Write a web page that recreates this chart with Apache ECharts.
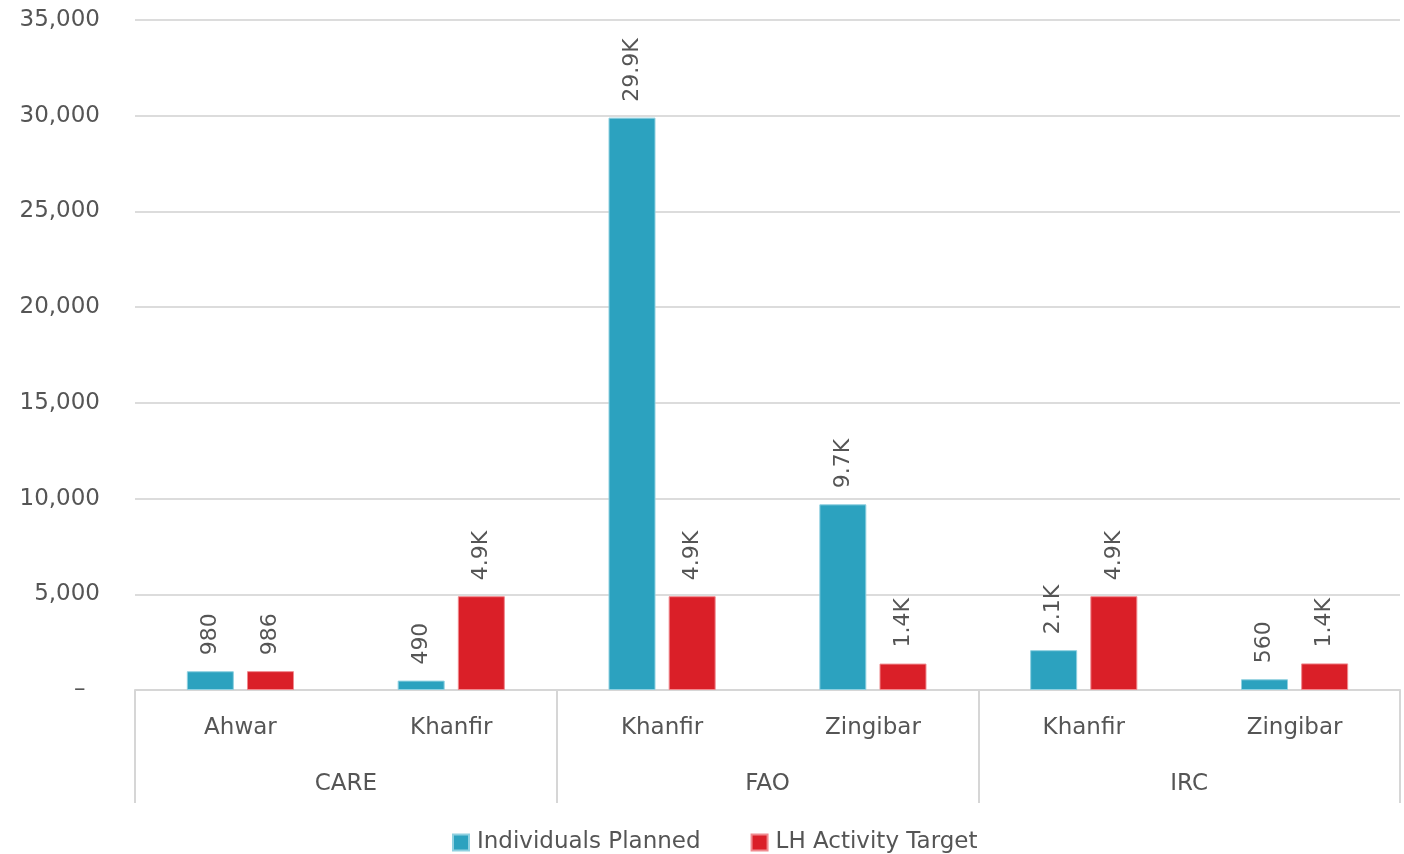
<!DOCTYPE html>
<html>
<head>
<meta charset="utf-8">
<script src="https://cdn.jsdelivr.net/npm/echarts@6/dist/echarts.min.js"></script>
<style>html,body{margin:0;padding:0;background:#fff}#c{width:1404px;height:854px}</style>
</head>
<body>
<div id="c"></div>
<script>
const subCategories = ['Ahwar', 'Khanfir', 'Khanfir', 'Zingibar', 'Khanfir', 'Zingibar'];
const groupCategories = ['CARE', 'FAO', 'IRC'];
const seriesNames = ['Individuals Planned', 'LH Activity Target'];
const individualsPlanned = [980, 490, 29900, 9700, 2080, 560];
const lhActivityTarget = [986, 4900, 4900, 1380, 4900, 1390];
const yTicks = { min: 0, max: 35000, interval: 5000 };

const FONT = 'DejaVu Sans';
const TXT = '#555';
const fmtLabel = p => p.value < 1000 ? String(p.value) : (p.value / 1000).toFixed(1) + 'K';

const chart = echarts.init(document.getElementById('c'));
const labelCfg = {
  show: true, position: 'top', rotate: 90, align: 'left', verticalAlign: 'middle',
  distance: 16, color: TXT, fontFamily: FONT, fontSize: 22, formatter: fmtLabel
};
chart.setOption({
  animation: false,
  textStyle: { fontFamily: FONT },
  color: ['#2ca2bf', '#da1f28'],
  grid: { left: 135, right: 4, top: 20, bottom: 164, containLabel: false },
  legend: {
    data: seriesNames, top: 826, left: 447, icon: 'rect',
    itemWidth: 16, itemHeight: 16, itemGap: 50,
    textStyle: { color: TXT, fontFamily: FONT, fontSize: 23, padding: [0, 0, 0, 3] }
  },
  xAxis: [
    {
      type: 'category', data: subCategories, position: 'bottom',
      axisLine: { show: true, lineStyle: { color: '#d6d6d6', width: 2 } },
      axisTick: { show: false },
      axisLabel: { color: TXT, fontFamily: FONT, fontSize: 23, margin: 27 }
    },
    {
      type: 'category', data: groupCategories, position: 'bottom',
      axisLine: { show: false },
      axisTick: { show: true, length: 113, lineStyle: { color: '#d6d6d6', width: 2 } },
      axisLabel: { color: TXT, fontFamily: FONT, fontSize: 23, margin: 83 }
    }
  ],
  yAxis: {
    type: 'value', min: yTicks.min, max: yTicks.max, interval: yTicks.interval,
    axisLine: { show: false }, axisTick: { show: false },
    splitLine: { lineStyle: { color: '#dcdcdc', width: 2 } },
    axisLabel: {
      color: TXT, fontFamily: FONT, fontSize: 23, margin: 35,
      formatter: v => v === 0 ? '\u2013\u00a0\u00a0' : v.toLocaleString('en-US')
    }
  },
  series: [
    { name: seriesNames[0], type: 'bar', xAxisIndex: 0, data: individualsPlanned,
      barWidth: 47, barGap: '28%', label: labelCfg,
      itemStyle: { borderColor: '#8fd0e0', borderWidth: 1 } },
    { name: seriesNames[1], type: 'bar', xAxisIndex: 0, data: lhActivityTarget,
      barWidth: 47, barGap: '28%', label: labelCfg,
      itemStyle: { borderColor: '#f08a8f', borderWidth: 1 } }
  ]
});
</script>
</body>
</html>
